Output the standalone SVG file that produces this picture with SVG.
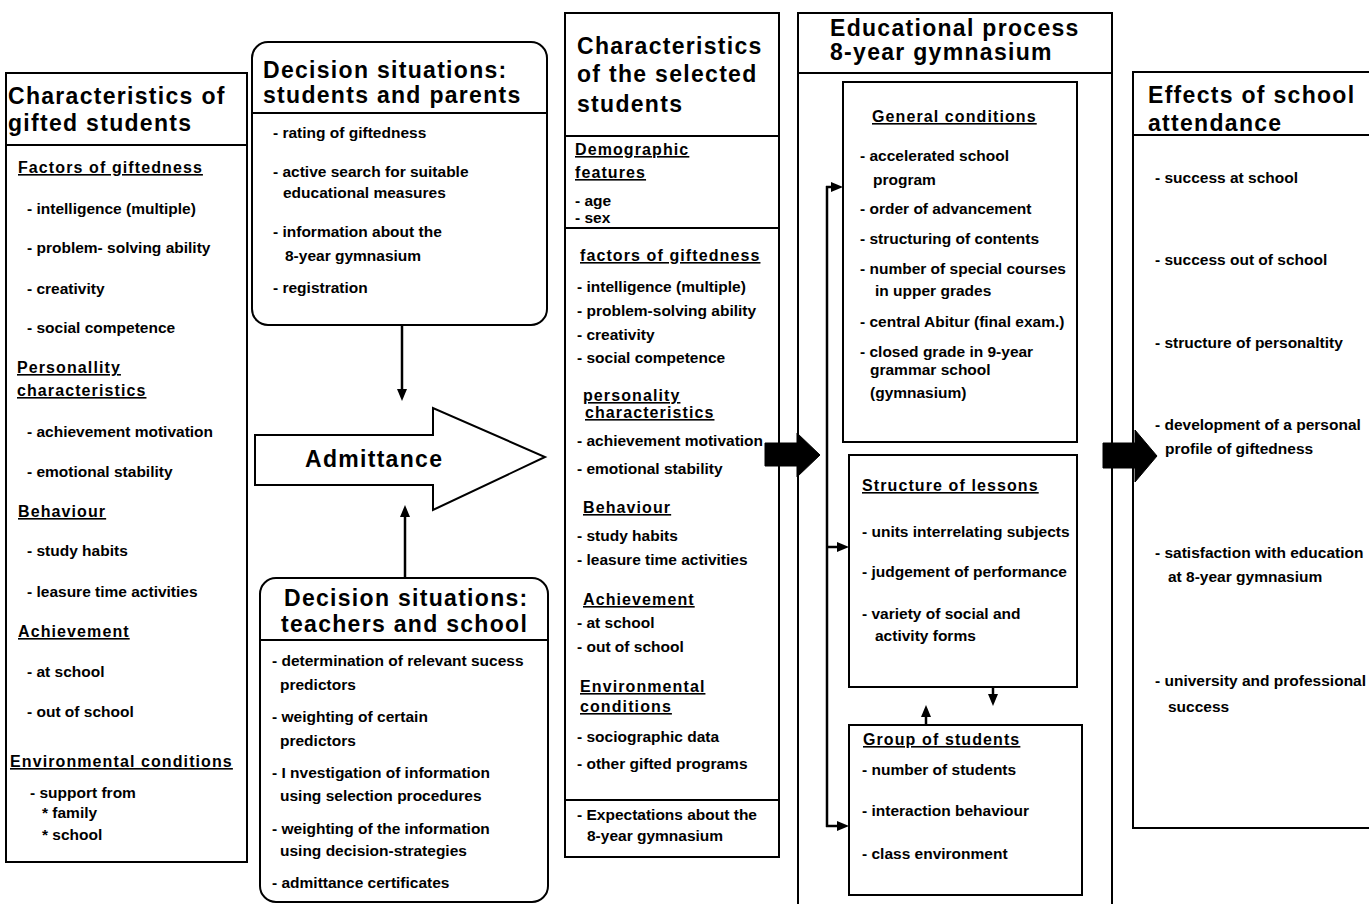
<svg xmlns="http://www.w3.org/2000/svg" width="1369" height="904" viewBox="0 0 1369 904">
<style>
.box{fill:#fff;stroke:#000;stroke-width:2}
.sep{stroke:#000;stroke-width:2;fill:none}
text{font-family:"Liberation Sans",Arial,sans-serif;font-weight:bold;fill:#000;font-size:15.5px}
.ti{font-size:23px;letter-spacing:1.3px}
.h{font-size:16px;letter-spacing:1.1px;text-decoration:underline}
.conn{stroke:#000;stroke-width:2.5;fill:none}
.thick{fill:#000;stroke:#000;stroke-width:1}
</style>
<defs>
<marker id="ah" markerUnits="userSpaceOnUse" markerWidth="12" markerHeight="10" refX="0" refY="5" orient="auto">
<path d="M0,0 L12,5 L0,10 z" fill="#000"/>
</marker>
</defs>
<rect width="1369" height="904" fill="#fff"/>

<g id="gifted-students">
<rect class="box" x="6" y="73" width="241" height="789"/>
<line class="sep" x1="6" y1="145" x2="247" y2="145"/>
<text class="ti" x="8" y="104">Characteristics of</text>
<text class="ti" x="8" y="131">gifted students</text>
<text class="h" x="18" y="173">Factors of giftedness</text>
<text x="27" y="214">- intelligence (multiple)</text>
<text x="27" y="253">- problem- solving ability</text>
<text x="27" y="294">- creativity</text>
<text x="27" y="333">- social competence</text>
<text class="h" x="17" y="373">Personallity</text>
<text class="h" x="17" y="396">characteristics</text>
<text x="27" y="437">- achievement  motivation</text>
<text x="27" y="477">- emotional stability</text>
<text class="h" x="18" y="517">Behaviour</text>
<text x="27" y="556">- study habits</text>
<text x="27" y="597">- leasure time activities</text>
<text class="h" x="18" y="637">Achievement</text>
<text x="27" y="677">- at school</text>
<text x="27" y="717">- out of school</text>
<text class="h" x="10" y="767">Environmental conditions</text>
<text x="30" y="798">- support from</text>
<text x="42" y="818">* family</text>
<text x="42" y="840">* school</text>
</g>

<g id="decision-students-parents">
<rect class="box" x="252" y="42" width="295" height="283" rx="16"/>
<line class="sep" x1="252" y1="113" x2="547" y2="113"/>
<text class="ti" x="263" y="78">Decision situations:</text>
<text class="ti" x="263" y="103">students and parents</text>
<text x="273" y="138">- rating of giftedness</text>
<text x="273" y="177">- active search for suitable</text>
<text x="283" y="198">educational measures</text>
<text x="273" y="237">- information about the</text>
<text x="285" y="261">8-year gymnasium</text>
<text x="273" y="293">- registration</text>
</g>

<g id="admittance">
<polygon class="box" points="255,435 433,435 433,408 545,457 433,510 433,485 255,485"/>
<text class="ti" x="305" y="467">Admittance</text>
</g>

<g id="decision-teachers-school">
<rect class="box" x="260" y="578" width="288" height="324" rx="16"/>
<line class="sep" x1="260" y1="640" x2="548" y2="640"/>
<text class="ti" x="284" y="606">Decision situations:</text>
<text class="ti" x="281" y="632">teachers and school</text>
<text x="272" y="666">- determination of relevant sucess</text>
<text x="280" y="690">predictors</text>
<text x="272" y="722">- weighting of certain</text>
<text x="280" y="746">predictors</text>
<text x="272" y="778">- I nvestigation of information</text>
<text x="280" y="801">using selection procedures</text>
<text x="272" y="834">- weighting of the information</text>
<text x="280" y="856">using decision-strategies</text>
<text x="272" y="888">- admittance certificates</text>
</g>

<g id="selected-students">
<rect class="box" x="565" y="13" width="214" height="844"/>
<line class="sep" x1="565" y1="136" x2="779" y2="136"/>
<line class="sep" x1="565" y1="228" x2="779" y2="228"/>
<line class="sep" x1="565" y1="800" x2="779" y2="800"/>
<text class="ti" x="577" y="54">Characteristics</text>
<text class="ti" x="577" y="82">of the selected</text>
<text class="ti" x="577" y="112">students</text>
<text class="h" x="575" y="155">Demographic</text>
<text class="h" x="575" y="178">features</text>
<text x="575" y="206">- age</text>
<text x="575" y="223">- sex</text>
<text class="h" x="580" y="261">factors of giftedness</text>
<text x="577" y="292">- intelligence (multiple)</text>
<text x="577" y="316">- problem-solving ability</text>
<text x="577" y="340">- creativity</text>
<text x="577" y="363">- social competence</text>
<text class="h" x="583" y="401">personality</text>
<text class="h" x="585" y="418">characteristics</text>
<text x="577" y="446">- achievement motivation</text>
<text x="577" y="474">- emotional stability</text>
<text class="h" x="583" y="513">Behaviour</text>
<text x="577" y="541">- study habits</text>
<text x="577" y="565">- leasure time activities</text>
<text class="h" x="583" y="605">Achievement</text>
<text x="577" y="628">- at school</text>
<text x="577" y="652">- out of school</text>
<text class="h" x="580" y="692">Environmental</text>
<text class="h" x="580" y="712">conditions</text>
<text x="577" y="742">- sociographic data</text>
<text x="577" y="769">- other gifted programs</text>
<text x="577" y="820">- Expectations about the</text>
<text x="587" y="841">8-year gymnasium</text>
</g>

<g id="educational-process">
<rect class="box" x="798" y="13" width="314" height="900"/>
<line class="sep" x1="798" y1="73" x2="1112" y2="73"/>
<text class="ti" x="830" y="36">Educational process</text>
<text class="ti" x="830" y="60">8-year gymnasium</text>
</g>

<g id="general-conditions">
<rect class="box" x="843" y="82" width="234" height="360"/>
<text class="h" x="872" y="122">General conditions</text>
<text x="860" y="161">- accelerated school</text>
<text x="873" y="185">program</text>
<text x="860" y="214">- order of advancement</text>
<text x="860" y="244">- structuring of contents</text>
<text x="860" y="274">- number of special courses</text>
<text x="875" y="296">in upper grades</text>
<text x="860" y="327">- central Abitur (final exam.)</text>
<text x="860" y="357">- closed grade in 9-year</text>
<text x="870" y="375">grammar school</text>
<text x="870" y="398">(gymnasium)</text>
</g>

<g id="structure-of-lessons">
<rect class="box" x="849" y="455" width="228" height="232"/>
<text class="h" x="862" y="491">Structure of lessons</text>
<text x="862" y="537">- units interrelating subjects</text>
<text x="862" y="577">- judgement of performance</text>
<text x="862" y="619">- variety of social and</text>
<text x="875" y="641">activity forms</text>
</g>

<g id="group-of-students">
<rect class="box" x="849" y="725" width="233" height="170"/>
<text class="h" x="863" y="745">Group of students</text>
<text x="862" y="775">- number of students</text>
<text x="862" y="816">- interaction behaviour</text>
<text x="862" y="859">- class environment</text>
</g>

<g id="effects">
<rect class="box" x="1133" y="72" width="250" height="756"/>
<line class="sep" x1="1133" y1="135" x2="1369" y2="135"/>
<text class="ti" x="1148" y="103">Effects of school</text>
<text class="ti" x="1148" y="131">attendance</text>
<text x="1155" y="183">- success at school</text>
<text x="1155" y="265">- success out of school</text>
<text x="1155" y="348">- structure of personaltity</text>
<text x="1155" y="430">- development of a personal</text>
<text x="1165" y="454">profile of giftedness</text>
<text x="1155" y="558">- satisfaction with education</text>
<text x="1168" y="582">at 8-year gymnasium</text>
<text x="1155" y="686">- university and professional</text>
<text x="1168" y="712">success</text>
</g>

<g id="connectors">
<line class="conn" x1="402" y1="325" x2="402" y2="389" marker-end="url(#ah)"/>
<line class="conn" x1="405" y1="578" x2="405" y2="517" marker-end="url(#ah)"/>
<line class="conn" x1="827" y1="186" x2="827" y2="827"/>
<line class="conn" x1="826" y1="187" x2="831" y2="187" marker-end="url(#ah)"/>
<line class="conn" x1="826" y1="547" x2="837" y2="547" marker-end="url(#ah)"/>
<line class="conn" x1="826" y1="826" x2="837" y2="826" marker-end="url(#ah)"/>
<line class="conn" x1="993" y1="687" x2="993" y2="694" marker-end="url(#ah)"/>
<line class="conn" x1="926" y1="725" x2="926" y2="717" marker-end="url(#ah)"/>
<polygon class="thick" points="765,443 797,443 797,433 820,455 797,477 797,466 765,466"/>
<polygon class="thick" points="1103,443 1135,443 1135,430 1157,456 1135,482 1135,468 1103,468"/>
</g>
</svg>
